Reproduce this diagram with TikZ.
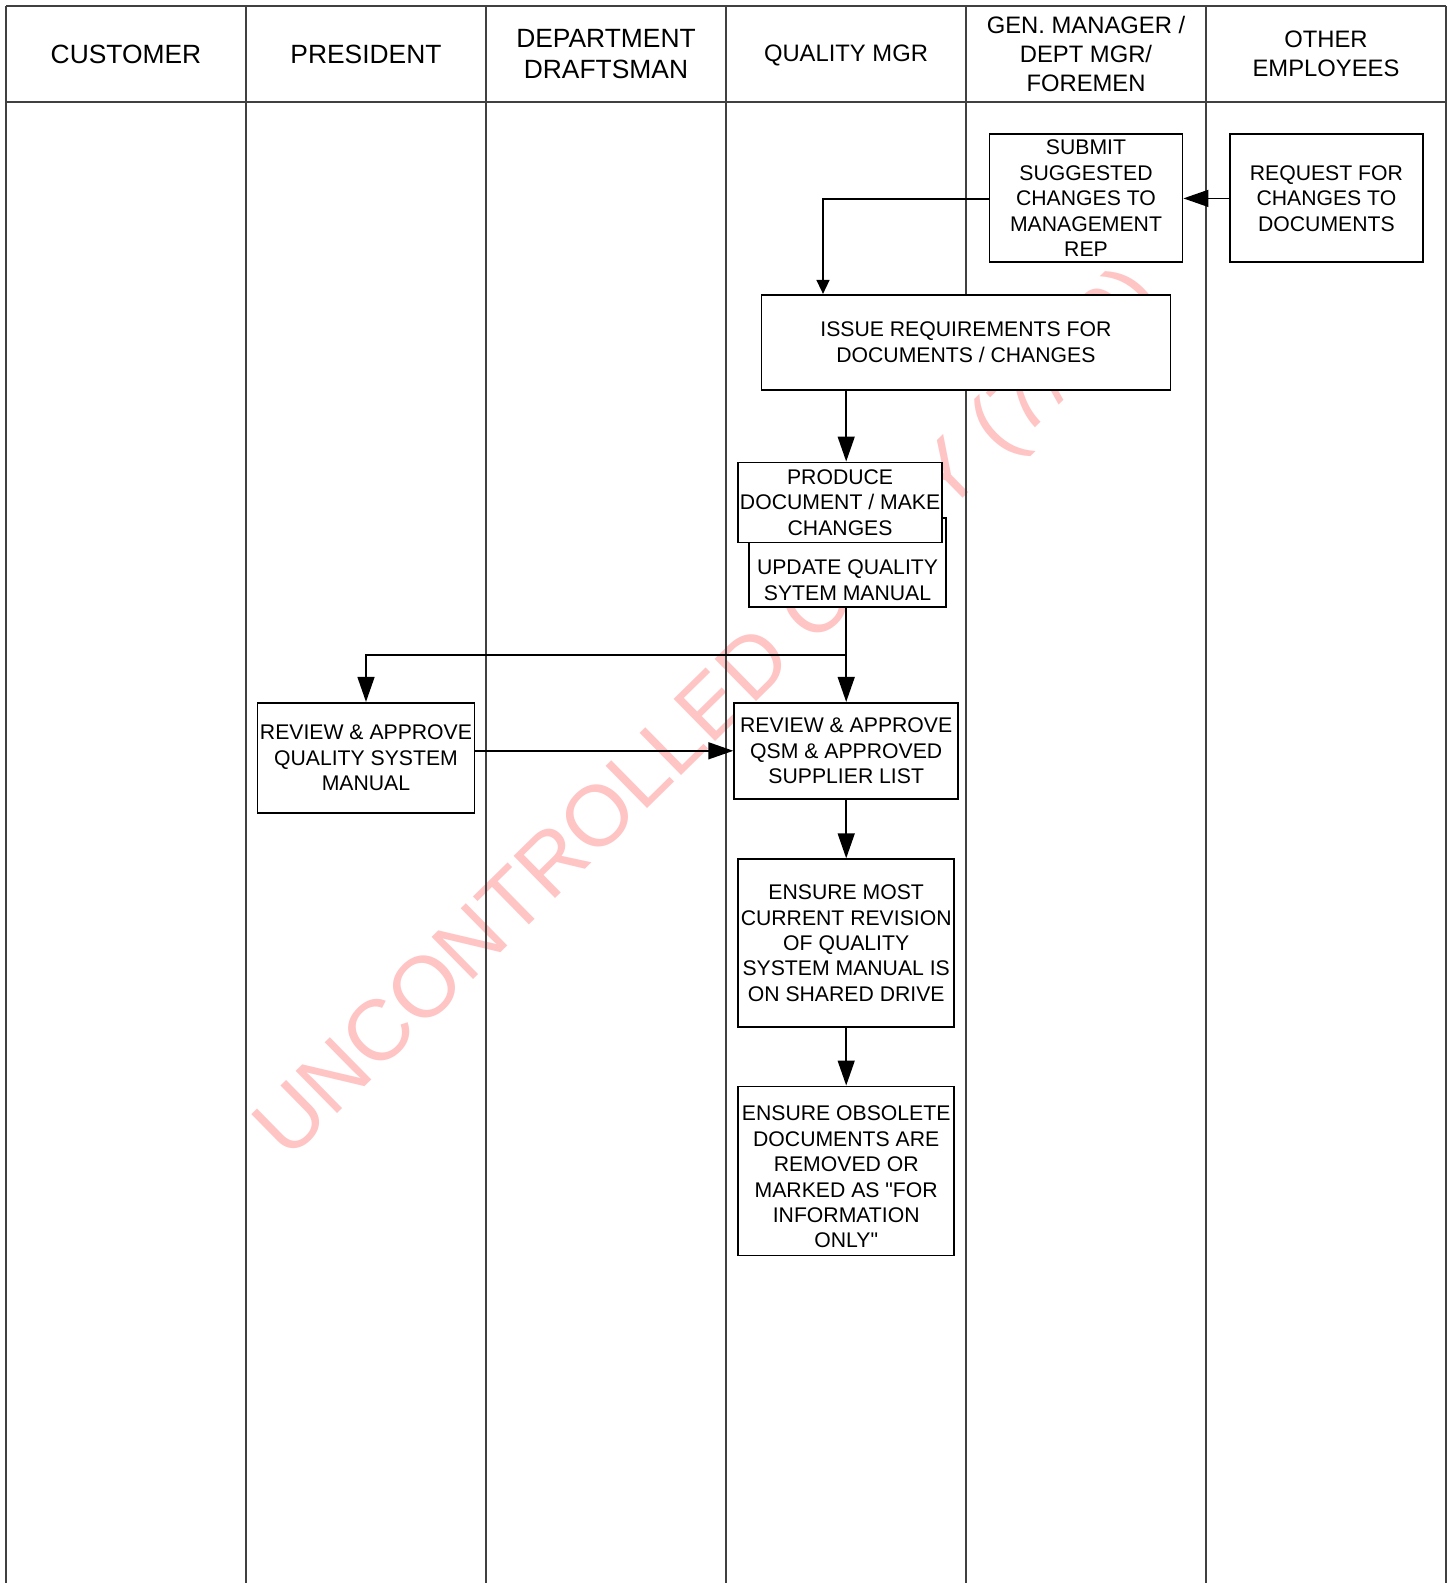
\documentclass[tikz,border=0pt]{standalone}
\usepackage{fontspec}
\setmainfont{Liberation Sans}[Ligatures=TeXOff]
\usetikzlibrary{arrows.meta}
\definecolor{wmpink}{RGB}{255,196,196}
\begin{document}
\begin{tikzpicture}[x=0.5pt,y=-0.5pt,
  lane/.style={draw=black!75, line width=0.55pt},
  box/.style={draw, fill=white, line width=0.9pt, inner sep=0pt, align=center,
              font=\fontsize{10.6}{12.7}\selectfont},
  boxtext/.style={inner sep=0pt, align=center, font=\fontsize{10.6}{12.7}\selectfont},
  arr/.style={line width=0.75pt, -{Triangle[length=12.5pt,width=8.5pt]}},
  sarr/.style={line width=0.75pt, -{Triangle[length=7pt,width=6.5pt]}},
  headA/.style={align=center, inner sep=0pt, font=\fontsize{13.2}{15.6}\selectfont},
  headB/.style={align=center, inner sep=0pt, font=\fontsize{11.9}{14.4}\selectfont},
  wmark/.style={text=wmpink, rotate=44.5, inner sep=0pt, anchor=base west,
                font=\fontsize{43}{50}\selectfont}
]
\useasboundingbox (0,0) rectangle (1449,1583);
\fill[white] (0,0) rectangle (1449,1583);

% watermark
\node[wmark] (wm) at (288,1162) {UNCONTROLLED COPY (7/10)};

% swimlane grid
\draw[lane] (6,6) -- (1446,6);
\draw[lane] (6,102) -- (1446,102);
\draw[lane, line width=0.9pt] (6,6) -- (6,1583);
\foreach \x in {246,486,726,966,1206,1446}
  \draw[lane] (\x,6) -- (\x,1583);

% lane headers
\node[headA] (hcust) at (126,54) {CUSTOMER};
\node[headA] (hpres) at (366,54) {PRESIDENT};
\node[headA] (hdraft) at (606,54) {DEPARTMENT\\DRAFTSMAN};
\node[headB] (hqual) at (846,55) {QUALITY MGR};
\node[headB] (hgen) at (1086,54) {GEN. MANAGER /\\DEPT MGR/\\FOREMEN};
\node[headB] (hother) at (1326,54) {OTHER\\EMPLOYEES};

% process boxes
\node[box, minimum width=96.5pt, minimum height=64pt] (submit) at (1086,198.4)
  {SUBMIT\\SUGGESTED\\CHANGES TO\\MANAGEMENT\\REP};
\node[box, minimum width=96.5pt, minimum height=64pt] (request) at (1326.4,198.4)
  {REQUEST FOR\\CHANGES TO\\DOCUMENTS};
\node[box, minimum width=204.5pt, minimum height=47.5pt] (issue) at (965.9,342.3)
  {ISSUE REQUIREMENTS FOR\\DOCUMENTS / CHANGES};
\node[box, minimum width=98.5pt, minimum height=44.5pt] (update) at (847.7,562.5) {};
\node[boxtext] (updatetext) at (847.5,580) {UPDATE QUALITY\\SYTEM MANUAL};
\node[box, minimum width=102pt, minimum height=40pt] (produce) at (840.1,502.4)
  {PRODUCE\\DOCUMENT / MAKE\\CHANGES};
\node[box, minimum width=112pt, minimum height=48pt] (qsm) at (846.2,750.8)
  {REVIEW \& APPROVE\\QSM \& APPROVED\\SUPPLIER LIST};
\node[box, minimum width=108.5pt, minimum height=55pt] (pres) at (366,757.8)
  {REVIEW \& APPROVE\\QUALITY SYSTEM\\MANUAL};
\node[box, minimum width=108pt, minimum height=84pt] (current) at (846.2,943.2)
  {ENSURE MOST\\CURRENT REVISION\\OF QUALITY\\SYSTEM MANUAL IS\\ON SHARED DRIVE};
\node[box, minimum width=108pt, minimum height=84.5pt] (obsolete) at (846.2,1170.9) {};
\node[boxtext] (obsoletetext) at (846.2,1177)
  {ENSURE OBSOLETE\\DOCUMENTS ARE\\REMOVED OR\\MARKED AS "FOR\\INFORMATION\\ONLY"};

% connectors
\coordinate (corner) at (823,199);
\coordinate (split) at (846.2,655);
\draw[arr] (request.west) -- (submit.east);
\draw[sarr] (submit.west |- corner) -- (corner) -- (issue.north -| corner);
\draw[arr] (issue.south -| qsm.north) -- (produce.north -| qsm.north);
\draw[arr] (update.south -| qsm.north) -- (qsm.north);
\draw[arr] (split) -| (pres.north);
\draw[arr] (pres.east |- qsm.west) -- (qsm.west);
\draw[arr] (qsm.south) -- (current.north);
\draw[arr] (current.south) -- (obsolete.north);
\end{tikzpicture}
\end{document}
